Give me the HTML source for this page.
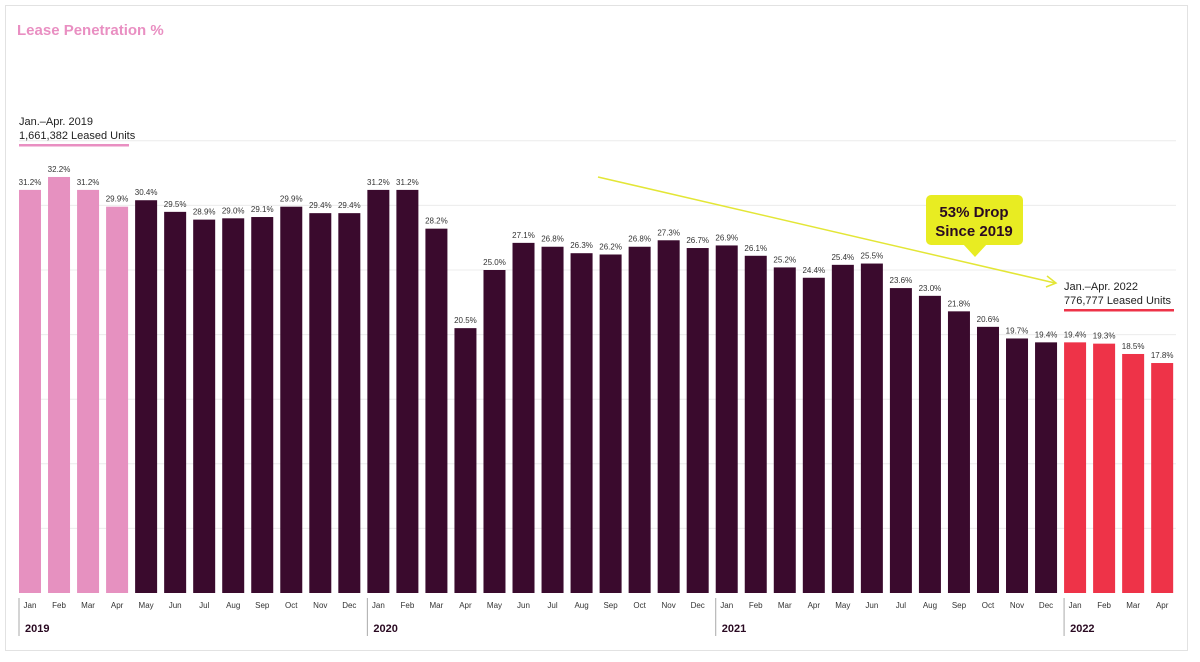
<!DOCTYPE html>
<html><head><meta charset="utf-8"><style>
body{margin:0;background:#fff;font-family:"Liberation Sans",sans-serif}
#wrap{position:relative;width:1200px;height:662px;overflow:hidden}
</style></head><body>
<div id="wrap">
<svg id="chart" width="1200" height="662" xmlns="http://www.w3.org/2000/svg">
<rect x="5.5" y="5.5" width="1182" height="645" fill="#fff" stroke="#e2e2e2"/>
<text x="17" y="35" font-size="15" font-weight="bold" fill="#e98fc2">Lease Penetration %</text>
<g id="grid"></g>
<g id="bars"></g>
<g id="labels"></g>
<g id="axis"></g>
<text x="19" y="125" font-size="11" fill="#222">Jan.–Apr. 2019</text>
<text x="19" y="139" font-size="11" fill="#222">1,661,382 Leased Units</text>
<rect x="19" y="144" width="110" height="2.5" fill="#e98fc2"/>
<text x="1064" y="290" font-size="11" fill="#222">Jan.–Apr. 2022</text>
<text x="1064" y="304" font-size="11" fill="#222">776,777 Leased Units</text>
<rect x="1064" y="309" width="110" height="2.5" fill="#ee3348"/>
<g>
<line x1="598" y1="177" x2="1055" y2="283" stroke="#e3e636" stroke-width="1.5"/>
<polyline points="1047,276 1056,283 1046,287" fill="none" stroke="#e3e636" stroke-width="1.5"/>
</g>
<g>
<rect x="926" y="195" width="97" height="50" rx="5" fill="#e8ec22"/>
<polygon points="963,244 987,244 975,257" fill="#e8ec22"/>
<text x="974" y="217" font-size="15" font-weight="bold" fill="#2a0a22" text-anchor="middle">53% Drop</text>
<text x="974" y="236" font-size="15" font-weight="bold" fill="#2a0a22" text-anchor="middle">Since 2019</text>
</g>
</svg>
</div>
<script>
const months=["Jan","Feb","Mar","Apr","May","Jun","Jul","Aug","Sep","Oct","Nov","Dec","Jan","Feb","Mar","Apr","May","Jun","Jul","Aug","Sep","Oct","Nov","Dec","Jan","Feb","Mar","Apr","May","Jun","Jul","Aug","Sep","Oct","Nov","Dec","Jan","Feb","Mar","Apr"];
const values=[31.2,32.2,31.2,29.9,30.4,29.5,28.9,29.0,29.1,29.9,29.4,29.4,31.2,31.2,28.2,20.5,25.0,27.1,26.8,26.3,26.2,26.8,27.3,26.7,26.9,26.1,25.2,24.4,25.4,25.5,23.6,23.0,21.8,20.6,19.7,19.4,19.4,19.3,18.5,17.8];
const years=["2019","2020","2021","2022"];
const yearStart=[0,12,24,36];
const gridTicks=[5,10,15,20,25,30,35];
const NS="http://www.w3.org/2000/svg";
const base=593,pxPer=12.92,x0=30,pitch=29.03,bw=22;
const y=v=>base-v*pxPer, xc=i=>x0+i*pitch;
function mk(tag,attrs,parent,text){const e=document.createElementNS(NS,tag);for(const k in attrs)e.setAttribute(k,attrs[k]);if(text!==undefined)e.textContent=text;document.getElementById(parent).appendChild(e);return e;}
gridTicks.forEach(t=>{const e=mk('line',{x1:19,x2:1176,y1:y(t),y2:y(t),stroke:'#ececec','stroke-width':1},'grid');

});
values.forEach((v,i)=>{
const col=i<4?'#e691c0':(i>=36?'#ee3348':'#3a0a2d');
const r=mk('rect',{x:xc(i)-bw/2,y:y(v),width:bw,height:v*pxPer,fill:col},'bars');


const t=mk('text',{x:xc(i),y:y(v)-5,'font-size':8,fill:'#333','text-anchor':'middle'},'labels',v.toFixed(1)+'%');


const m=mk('text',{x:xc(i),y:608,'font-size':8,fill:'#333','text-anchor':'middle'},'axis',months[i]);


});
years.forEach((yr,k)=>{const sx=xc(yearStart[k])-11;
const l=mk('line',{x1:sx,x2:sx,y1:598,y2:636,stroke:'#aaa','stroke-width':1},'axis');


const t=mk('text',{x:sx+6,y:632,'font-size':11,'font-weight':'bold',fill:'#2a0a22'},'axis',yr);

});
</script>
</body></html>
